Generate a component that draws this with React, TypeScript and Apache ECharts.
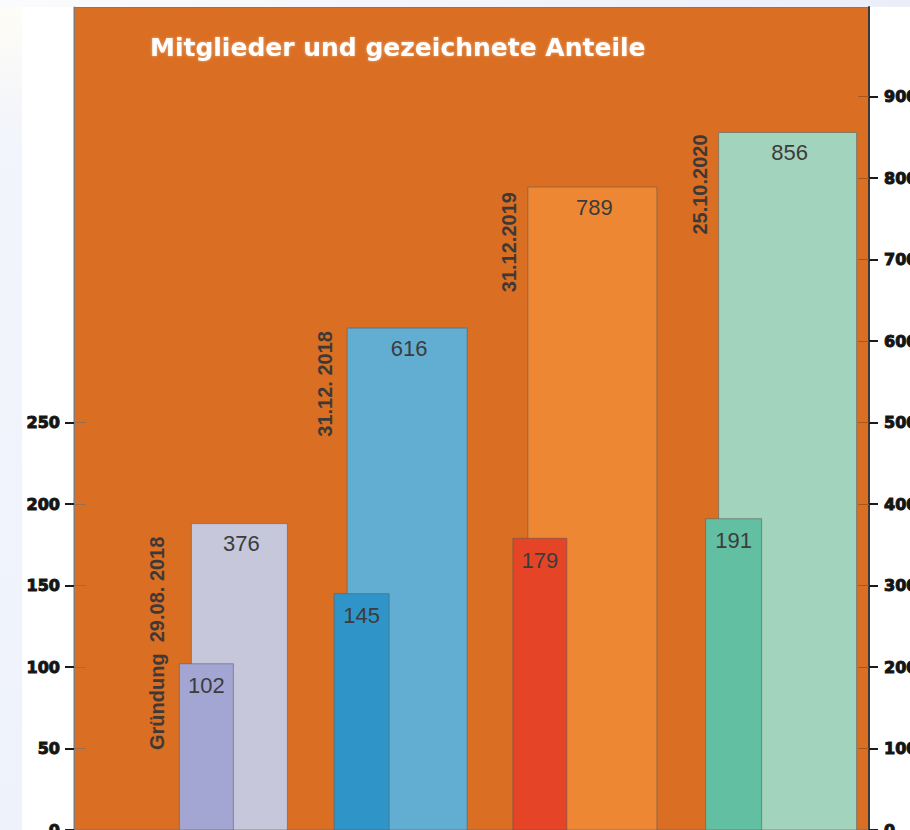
import React, { useEffect, useRef } from "react";
import * as echarts from "echarts";

// ---- data ----
const categories = ["Gründung  29.08. 2018", "31.12. 2018", "31.12.2019", "25.10.2020"];
const members = [102, 145, 179, 191];
const shares = [376, 616, 789, 856];
const leftTicks = [0, 50, 100, 150, 200, 250];
const rightTicks = [0, 100, 200, 300, 400, 500, 600, 700, 800, 900];
const titleText = "Mitglieder und gezeichnete Anteile";

// ---- layout / styles (pixel offsets relative to each category centre) ----
const smallOffsets = [[6, 60], [-38, 17], [-58, -4], [-64, -8]];
const bigOffsets = [[18, 114], [-25, 95], [-43, 86], [-51, 87]];
const dateX = [-16, -47, -62, -70];
const datePad = [13, 3, 5, 2];
const smallColors = ["#A3A6D3", "#2F95C8", "#E54526", "#63BFA1"];
const bigColors = ["#C6C7DA", "#62ADD2", "#EE8733", "#A2D3BD"];

export default function App() {
  const ref = useRef<HTMLDivElement>(null);
  useEffect(() => {
    if (!ref.current) return;
    const chart = echarts.init(ref.current, null, { renderer: "svg" });

    const valueFont = { fontSize: 22, fontFamily: "Liberation Sans, Arial, sans-serif", fill: "#3c3c3c" };

    const renderBig = (params: any, api: any) => {
      const i = api.value(0);
      const v = api.value(1);
      const c = api.coord([i, v]);
      const b = api.coord([i, 0]);
      const [o1, o2] = bigOffsets[i];
      const x1 = c[0] + o1;
      const x2 = c[0] + o2;
      return {
        type: "group",
        children: [
          {
            type: "rect",
            shape: { x: x1, y: c[1], width: x2 - x1, height: b[1] - c[1] },
            style: { fill: bigColors[i], stroke: "rgba(90,90,90,0.55)", lineWidth: 1 },
          },
          {
            type: "text",
            x: (x1 + x2) / 2 + 2,
            y: c[1] + 20,
            style: { text: String(v), ...valueFont, align: "center", verticalAlign: "middle" },
          },
          {
            type: "text",
            x: c[0] + dateX[i],
            y: c[1] + datePad[i],
            rotation: Math.PI / 2,
            style: {
              text: categories[i],
              fontSize: 20,
              fontWeight: "bold",
              fontFamily: "Liberation Sans, Arial, sans-serif",
              fill: "#3e3936",
              align: "right",
              verticalAlign: "middle",
            },
          },
        ],
      };
    };

    const renderSmall = (params: any, api: any) => {
      const i = api.value(0);
      const v = api.value(1);
      const c = api.coord([i, v]);
      const b = api.coord([i, 0]);
      const [o1, o2] = smallOffsets[i];
      const x1 = c[0] + o1;
      const x2 = c[0] + o2;
      return {
        type: "group",
        children: [
          {
            type: "rect",
            shape: { x: x1, y: c[1], width: x2 - x1, height: b[1] - c[1] },
            style: { fill: smallColors[i], stroke: "rgba(90,90,90,0.55)", lineWidth: 1 },
          },
          {
            type: "text",
            x: (x1 + x2) / 2,
            y: c[1] + 22,
            style: { text: String(v), ...valueFont, align: "center", verticalAlign: "middle" },
          },
        ],
      };
    };

    const tickLabel = {
      fontSize: 16,
      fontWeight: "bold",
      fontFamily: "DejaVu Sans, sans-serif",
      color: "#151515",
      textBorderColor: "#151515",
      textBorderWidth: 1,
    };

    chart.setOption({
      animation: false,
      backgroundColor: "#ffffff",
      title: {
        text: titleText,
        left: 150,
        top: 35,
        padding: 0,
        textStyle: {
          color: "#ffffff",
          fontSize: 25,
          fontWeight: "bold",
          fontFamily: "DejaVu Sans, sans-serif",
          textShadowColor: "rgba(255,255,255,0.45)",
          textShadowBlur: 3,
        },
      },
      graphic: [
        {
          type: "rect",
          shape: { x: 0, y: 0, width: 22, height: 830 },
          silent: true,
          style: {
            fill: new echarts.graphic.LinearGradient(0, 0, 0, 1, [
              { offset: 0, color: "#FFFDF6" },
              { offset: 0.15, color: "#F3F5FB" },
              { offset: 1, color: "#EEF2FB" },
            ]),
          },
        },
        {
          type: "rect",
          shape: { x: 0, y: 0, width: 910, height: 7 },
          silent: true,
          style: {
            fill: new echarts.graphic.LinearGradient(0, 0, 1, 0, [
              { offset: 0, color: "#FBFBFD" },
              { offset: 1, color: "#EBEEF8" },
            ]),
          },
        },
      ],
      grid: {
        left: 74,
        right: 41,
        top: 7,
        bottom: 0,
        outerBoundsMode: "none",
        containLabel: false,
        show: true,
        backgroundColor: "#DA6E22",
        borderColor: "#8a6a55",
        borderWidth: 1,
      },
      xAxis: {
        type: "category",
        data: categories,
        show: false,
      },
      yAxis: [
        {
          type: "value",
          position: "left",
          min: 0,
          max: 505,
          interval: 50,
          axisLine: { show: true, lineStyle: { color: "#8a7a70", width: 1 } },
          axisTick: { show: true, length: 9, customValues: leftTicks, lineStyle: { color: "#1a1a1a", width: 2 } },
          axisLabel: { customValues: leftTicks, margin: 14, ...tickLabel },
          splitLine: { show: false },
        },
        {
          type: "value",
          position: "right",
          min: 0,
          max: 1010,
          interval: 100,
          axisLine: { show: true, lineStyle: { color: "#3a3a3a", width: 2 } },
          axisTick: { show: true, length: 9, customValues: rightTicks, lineStyle: { color: "#1a1a1a", width: 2 } },
          axisLabel: { customValues: rightTicks, margin: 15, ...tickLabel },
          splitLine: { show: false },
        },
        {
          type: "value",
          position: "left",
          min: 0,
          max: 505,
          interval: 50,
          axisLine: { show: false },
          axisTick: { show: true, inside: true, length: 12, customValues: leftTicks, lineStyle: { color: "rgba(120,110,110,0.7)", width: 1 } },
          axisLabel: { show: false },
          splitLine: { show: false },
        },
        {
          type: "value",
          position: "right",
          min: 0,
          max: 1010,
          interval: 100,
          axisLine: { show: false },
          axisTick: { show: true, inside: true, length: 11, customValues: rightTicks, lineStyle: { color: "#A8561C", width: 1 } },
          axisLabel: { show: false },
          splitLine: { show: false },
        },
      ],
      series: [
        {
          type: "custom",
          name: "Anteile",
          xAxisIndex: 0,
          yAxisIndex: 1,
          renderItem: renderBig,
          encode: { x: 0, y: 1 },
          data: shares.map((v, i) => [i, v]),
          z: 2,
        },
        {
          type: "custom",
          name: "Mitglieder",
          xAxisIndex: 0,
          yAxisIndex: 0,
          renderItem: renderSmall,
          encode: { x: 0, y: 1 },
          data: members.map((v, i) => [i, v]),
          z: 3,
        },
      ],
    });
    return () => chart.dispose();
  }, []);

  return (
    <div
      ref={ref}
      style={{ position: "fixed", left: 0, top: 0, width: 910, height: 830 }}
    />
  );
}
